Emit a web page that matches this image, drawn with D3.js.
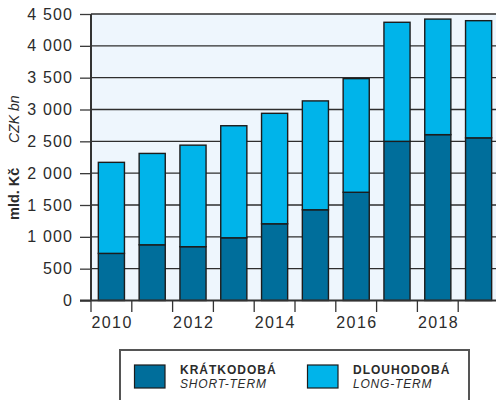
<!DOCTYPE html>
<html><head><meta charset="utf-8">
<script src="https://cdn.jsdelivr.net/npm/d3@7"></script>
<style>
html,body{margin:0;padding:0;background:#fff;}
svg{display:block;}
text{font-family:"Liberation Sans",Arial,Helvetica,sans-serif;fill:#2b2b2b;}
</style></head>
<body>
<svg id="chart" width="496" height="400"></svg>
<script>
const years = [2010, 2011, 2012, 2013, 2014, 2015, 2016, 2017, 2018, 2019];
const shortTerm = [740, 875, 845, 985, 1205, 1425, 1700, 2500, 2605, 2555];
const longTerm = [1430, 1435, 1595, 1760, 1735, 1710, 1785, 1870, 1815, 1840];
const yTicks = [0, 500, 1000, 1500, 2000, 2500, 3000, 3500, 4000, 4500];
const xLabelYears = [2010, 2012, 2014, 2016, 2018];
const seriesNames = ["KRÁTKODOBÁ", "DLOUHODOBÁ"];
const seriesNamesEn = ["SHORT-TERM", "LONG-TERM"];
const yTitleCz = "mld. Kč";
const yTitleEn = "CZK bn";

const colors = ["#006e9b", "#00b4ea"];
const svg = d3.select("#chart");
const pL = 91, pR = 499, pT = 14, pB = 300.5;

const x = d3.scaleBand().domain(years).range([pL, pR]).paddingInner(0.36).paddingOuter(0.18);
const y = d3.scaleLinear().domain([0, 4500]).range([pB, pT]);
const loc = d3.formatLocale({decimal: ",", thousands: " ", grouping: [3]});
const fmt = loc.format(",d");

// plot background
svg.append("rect").attr("x", pL).attr("y", pT).attr("width", pR - pL).attr("height", pB - pT).attr("fill", "#eef6fd");

// gridlines
svg.append("g").selectAll("line").data(yTicks.filter(d => d > 0)).join("line")
  .attr("x1", pL).attr("x2", pR).attr("y1", d => y(d)).attr("y2", d => y(d))
  .attr("stroke", "#2e2e2e").attr("stroke-width", 1.3);

// bars
const data = years.map((yr, i) => ({year: yr, s: shortTerm[i], l: longTerm[i]}));
const stack = d3.stack().keys(["s", "l"])(data);
svg.append("g").selectAll("g").data(stack).join("g")
  .attr("fill", (d, i) => colors[i])
  .selectAll("rect").data(d => d).join("rect")
  .attr("x", d => x(d.data.year)).attr("width", x.bandwidth())
  .attr("y", d => y(d[1])).attr("height", d => y(d[0]) - y(d[1]))
  .attr("stroke", "#1c1c1c").attr("stroke-width", 1.4);

// y axis
const yAxis = svg.append("g").attr("transform", `translate(${pL},0)`)
  .call(d3.axisLeft(y).tickValues(yTicks).tickFormat(fmt).tickSize(11).tickPadding(8));
yAxis.select(".domain").remove();
yAxis.selectAll(".tick line").attr("stroke", "#3a3a3a").attr("stroke-width", 1.3);
yAxis.selectAll(".tick text").attr("font-size", 16).attr("letter-spacing", 1.2).attr("dx", 1.2)
  .style("font-family", '"Liberation Sans",Arial,sans-serif').attr("fill", "#2b2b2b");
svg.append("line").attr("x1", pL).attr("x2", pL).attr("y1", pT).attr("y2", pB)
  .attr("stroke", "#333").attr("stroke-width", 2);

// x axis ticks at band boundaries
const half = (x.step() - x.bandwidth()) / 2;
svg.append("g").selectAll("line").data(years).join("line")
  .attr("x1", d => x(d) - half).attr("x2", d => x(d) - half)
  .attr("y1", pB).attr("y2", 312)
  .attr("stroke", "#333").attr("stroke-width", 1.3);
const xAxis = svg.append("g").attr("transform", `translate(0,${pB})`)
  .call(d3.axisBottom(x).tickValues(xLabelYears).tickSize(0).tickPadding(16));
xAxis.select(".domain").remove();
xAxis.selectAll(".tick text").attr("font-size", 16).attr("letter-spacing", 1.4).attr("dx", 0.7)
  .style("font-family", '"Liberation Sans",Arial,sans-serif').attr("fill", "#2b2b2b");
svg.append("line").attr("x1", 80).attr("x2", 496).attr("y1", pB).attr("y2", pB)
  .attr("stroke", "#333").attr("stroke-width", 2);

// y titles
svg.append("text").attr("transform", "translate(19,220) rotate(-90)")
  .attr("font-size", 14.5).attr("font-weight", "bold").attr("fill", "#222").text(yTitleCz);
svg.append("text").attr("transform", "translate(18.5,143) rotate(-90)")
  .attr("font-size", 14).attr("font-style", "italic").attr("fill", "#2b2b2b").text(yTitleEn);

// legend
svg.append("rect").attr("x", 120).attr("y", 350).attr("width", 349).attr("height", 70)
  .attr("fill", "#fff").attr("stroke", "#555").attr("stroke-width", 2);
const lx = [134.5, 307.5], tx = [180, 353];
seriesNames.forEach((n, i) => {
  svg.append("rect").attr("x", lx[i]).attr("y", 365).attr("width", 30.5).attr("height", 23)
    .attr("fill", colors[i]).attr("stroke", "#1c1c1c").attr("stroke-width", 1.2);
  svg.append("text").attr("x", tx[i]).attr("y", 373.5).attr("font-size", 12).attr("font-weight", "bold")
    .attr("letter-spacing", 1).attr("fill", "#222").text(n);
  svg.append("text").attr("x", tx[i]).attr("y", 388.3).attr("font-size", 12).attr("font-style", "italic")
    .attr("letter-spacing", 0.8).attr("fill", "#2b2b2b").text(seriesNamesEn[i]);
});
</script>
</body></html>
